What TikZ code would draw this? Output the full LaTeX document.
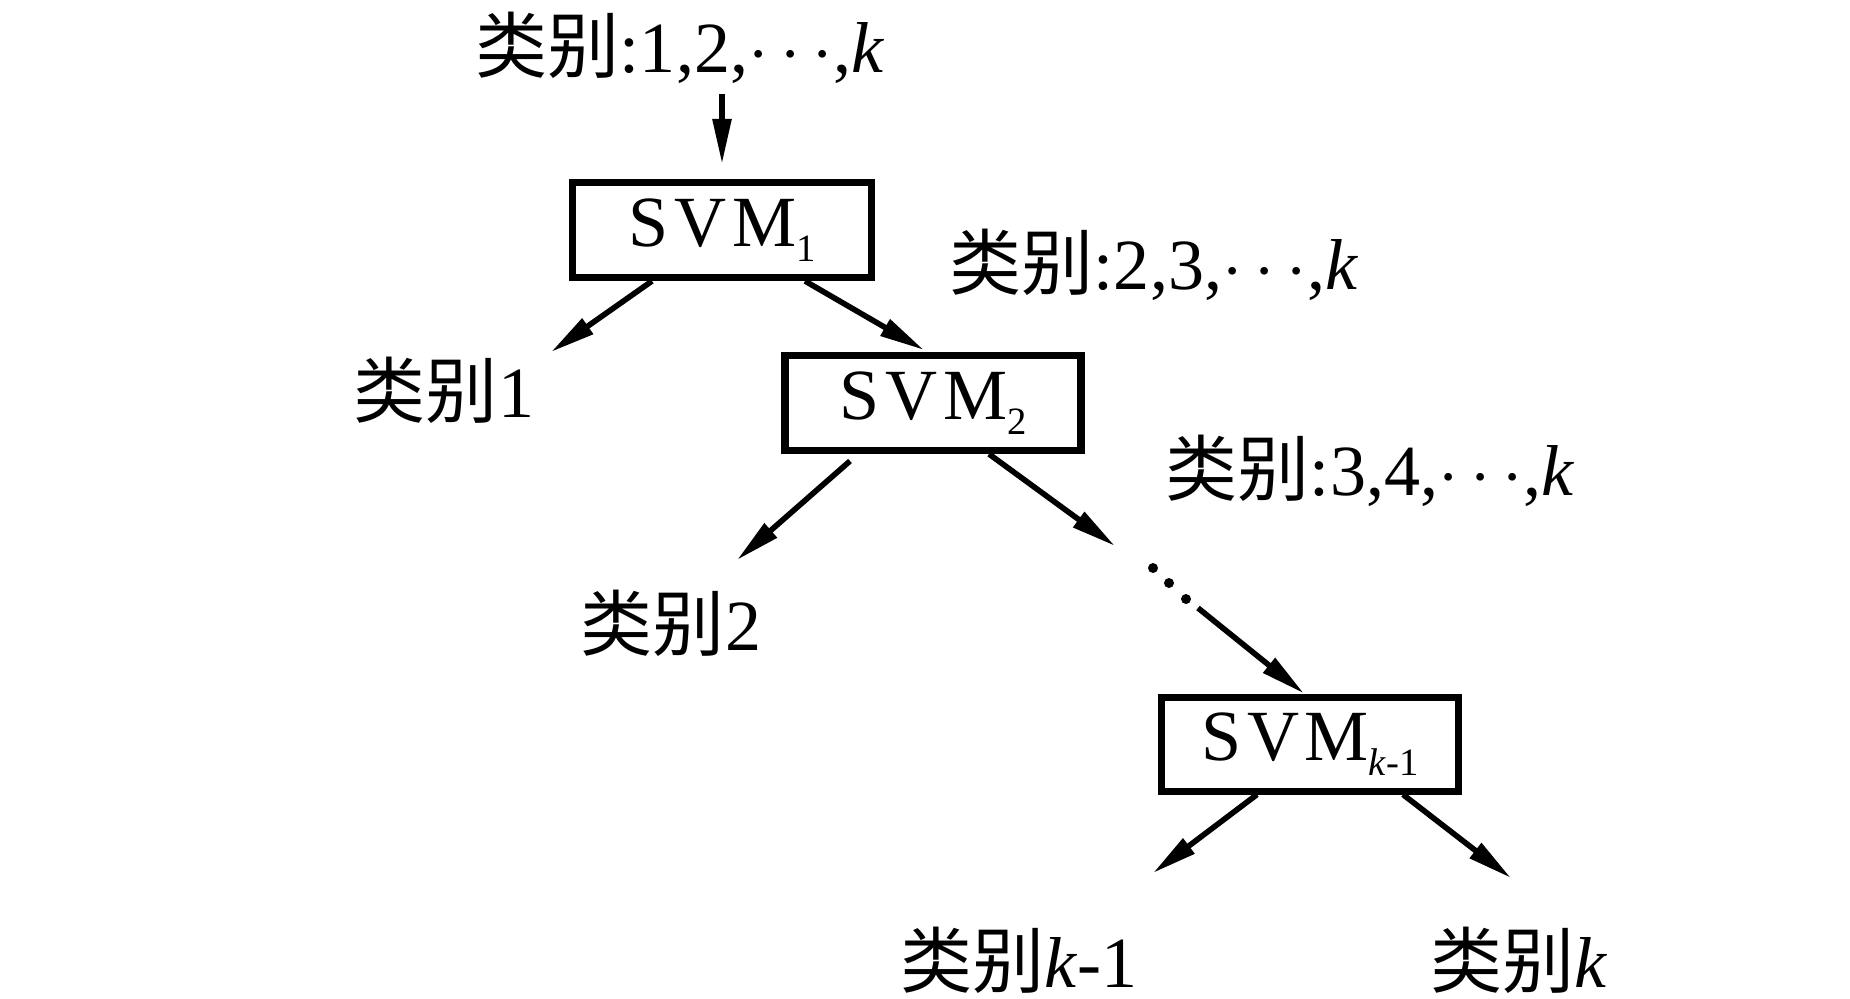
\documentclass[tikz,border=0pt]{standalone}
\usepackage{fontspec}
\setmainfont{Liberation Serif}
\newfontfamily\cjk{Noto Sans CJK SC}
\usetikzlibrary{arrows.meta,positioning}

\newcommand{\svmname}[1]{S\kern.08em V\kern.08em M\raisebox{-0.45ex}{\fontsize{11}{11}\selectfont #1}}

\begin{document}
\begin{tikzpicture}[
        font=\fontsize{20.5}{24}\selectfont,
        svmbox/.style={draw, line width=2pt, minimum height=0.95cm, inner sep=0pt},
        lbl/.style={inner sep=0pt},
        arr/.style={line width=1.6pt, -{Triangle[length=4.5mm, width=1.8mm]}}
    ]
        \useasboundingbox (0,0) rectangle (18.5,-9.98);

        % Root
        \node[lbl] (top) at (6.80,-0.48) {{\cjk 类别}:1,2,$\cdots$,\textit{k}};
        \node[svmbox, minimum width=2.99cm] (svm1) at (7.22,-2.30) {\svmname{1}};
        \draw[arr, shorten <=1mm, shorten >=1.5mm] (top.south -| svm1.north) -- (svm1.north);

        % Level 1
        \node[lbl] (c1) at (4.44,-3.90) {{\cjk 类别}1};
        \node[svmbox, minimum width=2.96cm] (svm2) at (9.33,-4.03) {\svmname{2}};
        \node[lbl] (rest1) at (11.54,-2.65) {{\cjk 类别}:2,3,$\cdots$,\textit{k}};
        \coordinate (t1) at (5.51,-3.52);
        \coordinate (t2) at (9.24,-3.50);
        \draw[arr] ([xshift=-0.70cm]svm1.south) -- (t1);
        \draw[arr] ([xshift=0.83cm]svm1.south) -- (t2);

        % Level 2
        \node[lbl] (c2) at (6.71,-6.23) {{\cjk 类别}2};
        \node[lbl] (rest2) at (13.70,-4.71) {{\cjk 类别}:3,4,$\cdots$,\textit{k}};
        \coordinate (t3) at (7.37,-5.60);
        \coordinate (t4) at (11.15,-5.46);
        \draw[arr] ([xshift=-0.83cm,yshift=-0.07cm]svm2.south) -- (t3);
        \draw[arr] ([xshift=0.56cm]svm2.south) -- (t4);

        % Dots
        \foreach \x/\y in {11.53/-5.68,11.69/-5.83,11.86/-5.99} {
                \fill (\x,\y) circle (0.05);
            }

        % Last level
        \node[svmbox, minimum width=2.97cm, minimum height=0.94cm] (svmk) at (13.10,-7.44) {\svmname{\textit{k}-1}};
        \coordinate (d1) at (11.98,-6.08);
        \draw[arr] (d1) -- ([xshift=-0.06cm]svmk.north);
        \node[lbl] (ck1) at (10.19,-9.60) {{\cjk 类别}\textit{k}-1};
        \node[lbl] (ck) at (15.19,-9.60) {{\cjk 类别}\textit{k}};
        \coordinate (t5) at (11.53,-8.73);
        \coordinate (t6) at (15.11,-8.78);
        \draw[arr] ([xshift=-0.53cm]svmk.south) -- (t5);
        \draw[arr] ([xshift=0.93cm]svmk.south) -- (t6);
    \end{tikzpicture}
\end{document}
